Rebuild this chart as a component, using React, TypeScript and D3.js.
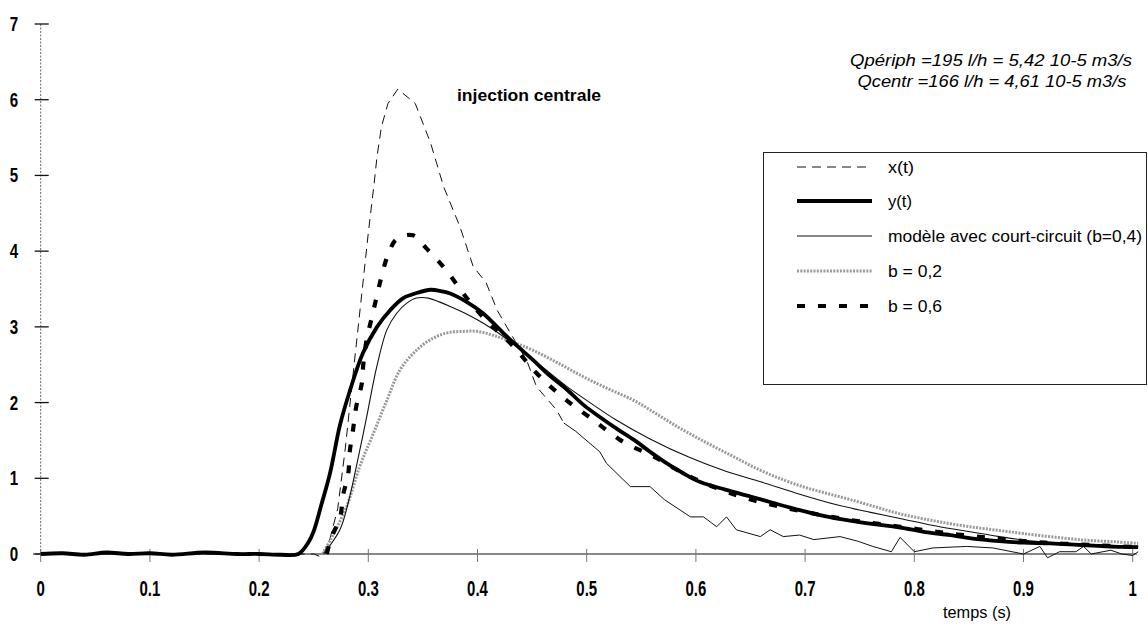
import React from 'react';
import * as d3 from 'd3';

// ---- axis ticks ----
const xTickValues = [0, 0.1, 0.2, 0.3, 0.4, 0.5, 0.6, 0.7, 0.8, 0.9, 1];
const xTickLabels = ['0', '0.1', '0.2', '0.3', '0.4', '0.5', '0.6', '0.7', '0.8', '0.9', '1'];
const yTickValues = [0, 1, 2, 3, 4, 5, 6, 7];

// ---- x(t) : thin dashed ----
const xtT = [0, 0.25, 0.257, 0.264, 0.272, 0.279, 0.287, 0.293, 0.3, 0.305, 0.308, 0.312, 0.318, 0.327, 0.343, 0.357, 0.369, 0.384, 0.396, 0.408, 0.418, 0.43, 0.445, 0.454, 0.4725, 0.479, 0.49, 0.503, 0.512, 0.518, 0.54, 0.558, 0.571, 0.595, 0.607, 0.619, 0.628, 0.637, 0.659, 0.668, 0.68, 0.695, 0.708, 0.732, 0.748, 0.762, 0.779, 0.787, 0.8, 0.817, 0.848, 0.872, 0.9, 0.915, 0.922, 0.933, 0.948, 0.955, 0.962, 0.98, 0.99, 1.0, 1.005];
const xtV = [0, 0, -0.04, 0.15, 0.6, 1.4, 2.5, 3.3, 4.24, 4.85, 5.25, 5.64, 5.95, 6.14, 5.95, 5.43, 4.85, 4.32, 3.8, 3.58, 3.22, 2.92, 2.56, 2.21, 1.9, 1.73, 1.62, 1.46, 1.35, 1.2, 0.89, 0.89, 0.72, 0.49, 0.49, 0.36, 0.49, 0.32, 0.23, 0.32, 0.23, 0.25, 0.19, 0.23, 0.17, 0.1, 0.03, 0.22, 0.03, 0.08, 0.1, 0.08, 0.0, 0.1, -0.05, 0.03, 0.03, 0.1, 0.0, 0.05, 0.0, -0.02, 0.03];
const xtDashedUntil = 0.479; // the scanned x(t) trace is dashed on the peak, continuous on the tail

// ---- y(t) : thick solid ----
const ytT = [0, 0.02, 0.04, 0.06, 0.08, 0.1, 0.12, 0.15, 0.18, 0.2, 0.22, 0.236, 0.245, 0.25, 0.257, 0.265, 0.274, 0.283, 0.295, 0.308, 0.32, 0.332, 0.345, 0.357, 0.367, 0.375, 0.39, 0.405, 0.418, 0.43, 0.451, 0.465, 0.482, 0.497, 0.512, 0.528, 0.543, 0.558, 0.573, 0.588, 0.604, 0.627, 0.65, 0.672, 0.695, 0.718, 0.741, 0.765, 0.787, 0.81, 0.833, 0.856, 0.878, 0.9, 0.925, 0.95, 0.975, 1.005];
const ytV = [0, 0.01, -0.01, 0.02, 0, 0.01, -0.01, 0.02, 0, 0, -0.01, 0, 0.15, 0.3, 0.65, 1.07, 1.7, 2.15, 2.65, 3.0, 3.22, 3.38, 3.45, 3.49, 3.47, 3.44, 3.33, 3.18, 3.0, 2.83, 2.56, 2.37, 2.17, 1.97, 1.81, 1.65, 1.51, 1.35, 1.2, 1.07, 0.95, 0.85, 0.76, 0.67, 0.58, 0.5, 0.44, 0.39, 0.35, 0.29, 0.25, 0.2, 0.17, 0.15, 0.14, 0.12, 0.1, 0.09];

// ---- modèle avec court-circuit (b=0,4) : thin solid ----
const m4T = [0.259, 0.274, 0.282, 0.289, 0.2985, 0.3077, 0.317, 0.326, 0.335, 0.344, 0.355, 0.365, 0.375, 0.39, 0.405, 0.424, 0.45, 0.482, 0.505, 0.527, 0.558, 0.595, 0.628, 0.66, 0.695, 0.729, 0.76, 0.787, 0.82, 0.848, 0.878, 0.909, 0.94, 0.97, 1.005];
const m4V = [0, 0.32, 0.7, 1.15, 1.81, 2.47, 2.96, 3.18, 3.31, 3.38, 3.38, 3.33, 3.27, 3.17, 3.05, 2.87, 2.58, 2.21, 1.98, 1.77, 1.52, 1.27, 1.09, 0.95, 0.79, 0.65, 0.55, 0.47, 0.37, 0.3, 0.23, 0.17, 0.14, 0.12, 0.1];

// ---- b = 0,2 : grey dotted ----
const m2T = [0.258, 0.265, 0.28, 0.292, 0.3046, 0.317, 0.329, 0.344, 0.358, 0.372, 0.387, 0.4, 0.414, 0.432, 0.451, 0.474, 0.497, 0.52, 0.543, 0.565, 0.588, 0.611, 0.634, 0.657, 0.68, 0.7, 0.72, 0.741, 0.765, 0.787, 0.81, 0.833, 0.856, 0.878, 0.9, 0.93, 0.96, 0.985, 1.005];
const m2V = [0, 0.18, 0.62, 1.15, 1.59, 2.03, 2.43, 2.69, 2.84, 2.92, 2.94, 2.94, 2.89, 2.8, 2.69, 2.52, 2.34, 2.18, 2.03, 1.84, 1.64, 1.46, 1.29, 1.12, 0.98, 0.88, 0.8, 0.72, 0.62, 0.53, 0.46, 0.4, 0.35, 0.31, 0.27, 0.22, 0.18, 0.16, 0.14];

// ---- b = 0,6 : thick dashed ----
const m6T = [0.262, 0.2665, 0.274, 0.277, 0.2817, 0.283, 0.286, 0.289, 0.294, 0.2955, 0.2985, 0.303, 0.3077, 0.312, 0.318, 0.326, 0.341, 0.353, 0.366, 0.376, 0.387, 0.405, 0.433, 0.454, 0.479, 0.506, 0.5335, 0.561, 0.588, 0.619, 0.65, 0.695, 0.741, 0.787, 0.833, 0.878, 0.92, 0.96, 1.005];
const m6V = [0, 0.23, 0.47, 0.78, 1.07, 1.35, 1.64, 1.95, 2.25, 2.52, 2.83, 3.11, 3.4, 3.66, 3.95, 4.16, 4.21, 4.04, 3.84, 3.66, 3.44, 3.13, 2.74, 2.39, 2.06, 1.77, 1.48, 1.29, 1.07, 0.87, 0.72, 0.57, 0.45, 0.36, 0.27, 0.2, 0.15, 0.12, 0.09];

const legendLabels = ['x(t)', 'y(t)', 'modèle avec court-circuit (b=0,4)', 'b = 0,2', 'b = 0,6'];
const titleText = 'injection centrale';
const flowLines = ['Qpériph =195 l/h = 5,42 10-5 m3/s', 'Qcentr =166 l/h = 4,61 10-5 m3/s'];
const xAxisTitle = 'temps (s)';

const W = 1148;
const H = 628;
const FONT = "'Liberation Sans Narrow', 'Liberation Sans', Arial, sans-serif";

const x = d3.scaleLinear().domain([0, 1]).range([40.7, 1132.7]);
const y = d3.scaleLinear().domain([0, 7]).range([554, 24]);

type Pt = [number, number];
const zip = (ts: number[], vs: number[]) => ts.map((t, i) => [t, vs[i]] as Pt);
const straight = d3.line<Pt>().x(d => x(d[0])).y(d => y(d[1]));
const smooth = d3.line<Pt>().x(d => x(d[0])).y(d => y(d[1])).curve(d3.curveCatmullRom.alpha(0.5));

type Style = { stroke: string; width: number; dash?: string };
const styles: Style[] = [
  { stroke: '#111', width: 1, dash: '9,6' },
  { stroke: '#000', width: 3.8 },
  { stroke: '#111', width: 1.1 },
  { stroke: '#9a9a9a', width: 3, dash: '2,1.3' },
  { stroke: '#000', width: 4.2, dash: '8,13' },
];

function Path({ d, st, solid }: { d: string; st: Style; solid?: boolean }) {
  return <path d={d} fill="none" stroke={st.stroke} strokeWidth={st.width}
    strokeDasharray={solid ? undefined : st.dash} strokeLinejoin="round" />;
}

export default function App() {
  const xt = zip(xtT, xtV);
  const splitIdx = xtT.findIndex(t => t >= xtDashedUntil);
  const xtHead = xt.slice(0, splitIdx + 1);
  const xtTail = xt.slice(splitIdx);
  const legendRows = [167, 201, 236, 271, 306];
  const legendWidths = [26, 24, 254, 54, 54];

  return (
    <svg width={W} height={H} style={{ position: 'absolute', left: 0, top: 0, background: '#fff' }}
      fontFamily={FONT}>
      <rect x={0} y={0} width={W} height={H} fill="#fff" />
      {/* y axis */}
      <line x1={x(0)} x2={x(0)} y1={y(7)} y2={y(0)} stroke="#666" strokeWidth={1} strokeDasharray="2,1.5" />
      {yTickValues.map(v => (
        <g key={v}>
          <line x1={x(0) - 6} x2={x(0) + 8} y1={y(v)} y2={y(v)} stroke="#111" strokeWidth={1.3} />
          <text transform={`translate(14,${y(v) + 7}) scale(0.72,1)`} textAnchor="middle"
            fontSize={21} fontWeight="bold" fill="#000">{v}</text>
        </g>
      ))}
      {/* x axis */}
      <line x1={33} x2={x(1) + 4} y1={y(0)} y2={y(0)} stroke="#111" strokeWidth={1.2} />
      {xTickValues.map((t, i) => (
        <g key={t}>
          <line x1={x(t)} x2={x(t)} y1={y(0) - 5} y2={y(0) + 8} stroke="#777" strokeWidth={1} />
          <text transform={`translate(${x(t)},${596}) scale(0.68,1)`} textAnchor="middle"
            fontSize={22} fontWeight="bold" fill="#000">{xTickLabels[i]}</text>
        </g>
      ))}
      <text x={977} y={618} textAnchor="middle" fontSize={16} textLength={68}
        lengthAdjust="spacingAndGlyphs">{xAxisTitle}</text>

      {/* series */}
      <Path d={straight(xtHead) || ''} st={styles[0]} />
      <Path d={straight(xtTail) || ''} st={styles[0]} solid />
      <Path d={smooth(zip(m2T, m2V)) || ''} st={styles[3]} />
      <Path d={smooth(zip(m4T, m4V)) || ''} st={styles[2]} />
      <Path d={smooth(zip(m6T, m6V)) || ''} st={styles[4]} />
      <Path d={smooth(zip(ytT, ytV)) || ''} st={styles[1]} />

      {/* annotations */}
      <text x={457} y={101} fontSize={16} fontWeight="bold" textLength={144}
        lengthAdjust="spacingAndGlyphs">{titleText}</text>
      <text x={991} y={66} textAnchor="middle" fontSize={16} fontStyle="italic" textLength={282}
        lengthAdjust="spacingAndGlyphs">{flowLines[0]}</text>
      <text x={992} y={87} textAnchor="middle" fontSize={16} fontStyle="italic" textLength={269}
        lengthAdjust="spacingAndGlyphs">{flowLines[1]}</text>

      {/* legend */}
      <rect x={763.5} y={152.5} width={383} height={232} fill="#fff" stroke="#222" strokeWidth={1} />
      {legendLabels.map((lab, i) => (
        <g key={lab}>
          <line x1={797} x2={872} y1={legendRows[i]} y2={legendRows[i]} stroke={styles[i].stroke}
            strokeWidth={styles[i].width} strokeDasharray={styles[i].dash} />
          <text x={888} y={legendRows[i] + 6} fontSize={17} textLength={legendWidths[i]}
            lengthAdjust="spacingAndGlyphs">{lab}</text>
        </g>
      ))}
    </svg>
  );
}
